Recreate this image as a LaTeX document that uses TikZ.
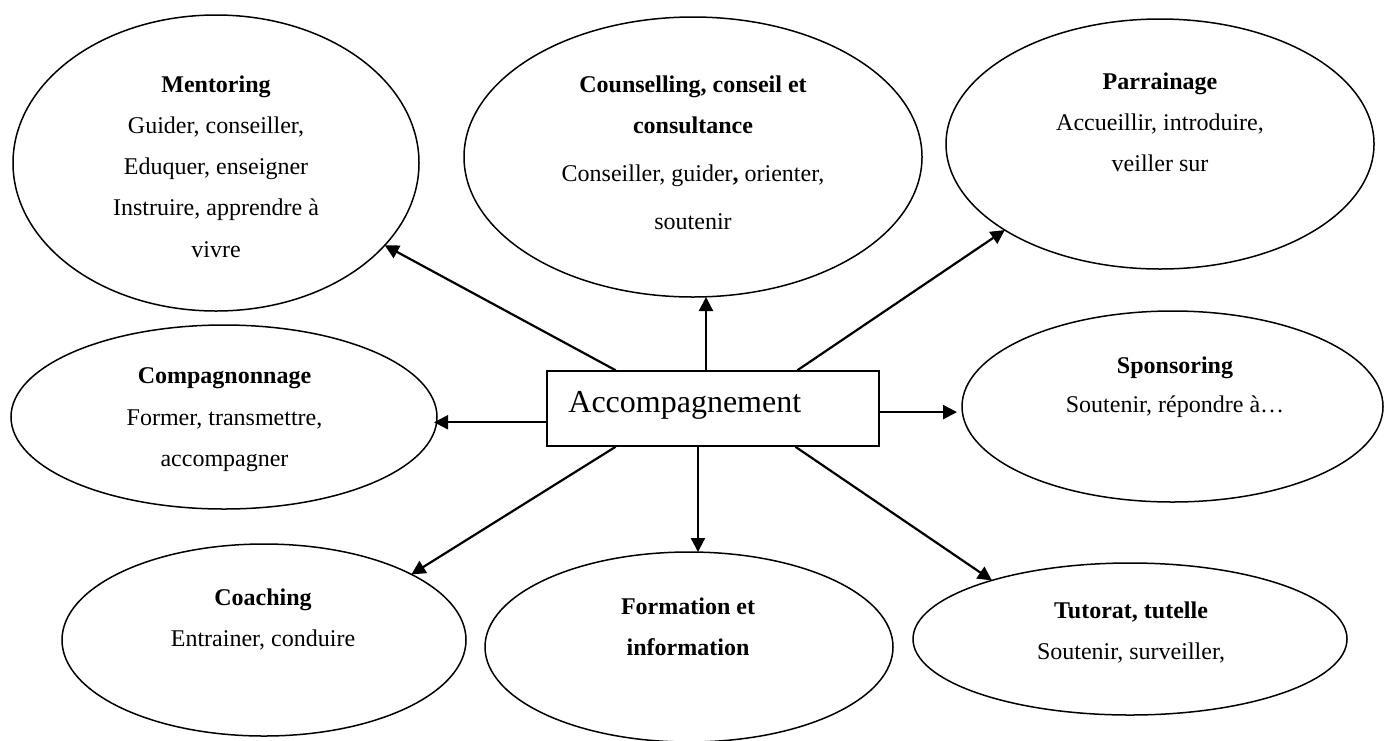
\documentclass[tikz,border=0pt]{standalone}
\usepackage{fontspec}
\setmainfont{Liberation Serif}
\usetikzlibrary{shapes.geometric,arrows.meta,calc}
\begin{document}
\begin{tikzpicture}[x=0.5pt,y=-0.5pt,
  oval/.style={draw,ellipse,line width=0.75pt,inner sep=0pt,outer sep=0pt},
  txt/.style={anchor=north,align=center,inner sep=0pt,font=\fontsize{12}{20.65}\selectfont},
  arr/.style={line width=1.1pt,-{Triangle[length=7pt,width=7pt]}}]
\useasboundingbox[fill=white] (0,0) rectangle (1384,740);
% ellipses
\node[oval,minimum width=203pt,minimum height=148pt] (ment) at (216,163) {};
\node[oval,minimum width=229pt,minimum height=140pt] (couns) at (693,157) {};
\node[oval,minimum width=214pt,minimum height=125pt] (parr) at (1160,144) {};
\node[oval,minimum width=213pt,minimum height=92pt] (comp) at (224,417) {};
\node[oval,minimum width=210.5pt,minimum height=95.5pt] (spon) at (1172.5,406.5) {};
\node[oval,minimum width=202pt,minimum height=96pt] (coach) at (264,640) {};
\node[oval,minimum width=204pt,minimum height=95pt] (form) at (689,647) {};
\node[oval,minimum width=217pt,minimum height=76pt] (tut) at (1130,639) {};
% texts
\node[txt] (mentT) at (216,75) {\textbf{Mentoring}\\Guider, conseiller,\\Eduquer, enseigner\\Instruire, apprendre à\\vivre};
\node[txt] (counsT) at (693,75) {\textbf{Counselling, conseil et}\\\textbf{consultance}\\[3.5pt]Conseiller, guider\textbf{,} orienter,\\[3.5pt]soutenir};
\node[txt] (parrT) at (1160,72) {\textbf{Parrainage}\\Accueillir, introduire,\\veiller sur};
\node[txt] (compT) at (224.5,367.5) {\textbf{Compagnonnage}\\Former, transmettre,\\accompagner};
\node[txt] (sponT) at (1175,356.5) {\textbf{Sponsoring}\\[-1.3pt]Soutenir, répondre à…};
\node[txt] (coachT) at (263,588.5) {\textbf{Coaching}\\Entrainer, conduire};
\node[txt] (formT) at (688,597.5) {\textbf{Formation et}\\\textbf{information}};
\node[txt] (tutT) at (1131,601) {\textbf{Tutorat, tutelle}\\Soutenir, surveiller,};
% central box
\node[draw,line width=0.75pt,minimum width=166pt,minimum height=37.5pt,inner sep=0pt] (box) at (713,408.5) {};
\node[anchor=base west,inner sep=0pt,font=\fontsize{16}{19}\selectfont] (boxT) at (568,412) {Accompagnement};
% anchor points on box
\coordinate (t1) at ($(box.north west)!0.208!(box.north east)$);
\coordinate (t2) at ($(box.north west)!0.479!(box.north east)$);
\coordinate (t3) at ($(box.north west)!0.753!(box.north east)$);
\coordinate (b1) at ($(box.south west)!0.208!(box.south east)$);
\coordinate (b2) at ($(box.south west)!0.455!(box.south east)$);
\coordinate (b3) at ($(box.south west)!0.747!(box.south east)$);
\coordinate (lw) at ($(box.north west)!0.68!(box.south west)$);
\coordinate (rw) at ($(box.north east)!0.547!(box.south east)$);
% arrows
\draw[arr] (t1) -- (ment.-26);
\draw[arr] (t2) -- (t2 |- couns.south);
\draw[arr] (t3) -- (parr.-151);
\draw[arr,shorten >=-1.5pt] (lw) -- (lw -| comp.east);
\draw[arr,shorten >=2.5pt] (rw) -- (rw -| spon.west);
\draw[arr] (b1) -- (coach.24);
\draw[arr] (b2) -- (b2 |- form.north);
\draw[arr] (b3) -- (tut.157);
\end{tikzpicture}
\end{document}
